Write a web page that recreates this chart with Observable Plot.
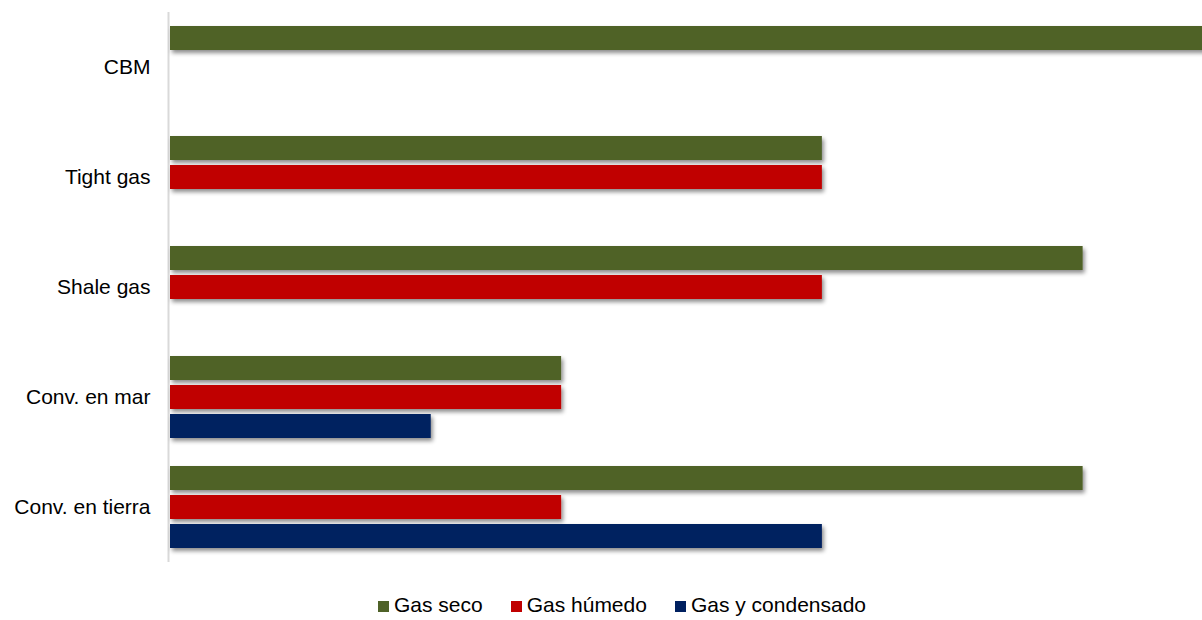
<!DOCTYPE html>
<html>
<head>
<meta charset="utf-8">
<script src="https://cdn.jsdelivr.net/npm/d3@7"></script>
<script src="https://cdn.jsdelivr.net/npm/@observablehq/plot@0.6"></script>
<style>
  html, body { margin: 0; padding: 0; background: #fff; }
  body { width: 1202px; height: 620px; overflow: hidden; font-family: "Liberation Sans", Arial, sans-serif; }
  #legend { display: flex; justify-content: center; align-items: center; height: 26px; margin-top: 2px; margin-left: 42px; font-size: 21px; color: #000; }
  #legend .item { display: flex; align-items: center; margin: 0 14px; }
  #legend .sw { width: 11px; height: 11px; margin-right: 5px; margin-top: 2px; }
</style>
</head>
<body>
<div id="chart"></div>
<div id="legend"></div>
<script>
const categories = ["CBM", "Tight gas", "Shale gas", "Conv. en mar", "Conv. en tierra"];
const series = ["Gas seco", "Gas húmedo", "Gas y condensado"];
const colors = ["#4F6228", "#C00000", "#002060"];
const gasSeco = [8, 5, 7, 3, 7];
const gasHumedo = [null, 5, 5, 3, 3];
const gasCondensado = [null, null, null, 2, 5];

const seriesValues = [gasSeco, gasHumedo, gasCondensado];
const rows = [];
categories.forEach((c, i) => {
  series.forEach((s, j) => {
    const v = seriesValues[j][i];
    if (v != null) rows.push({category: c, series: s, value: v});
  });
});

const chart = Plot.plot({
  width: 1202,
  height: 590,
  marginLeft: 170,
  marginRight: -11,
  marginTop: 12,
  marginBottom: 28,
  style: {fontFamily: "'Liberation Sans', Arial, sans-serif", fontSize: "21px", color: "#000", overflow: "hidden", background: "#fff"},
  x: {domain: [0, 8], axis: null},
  y: {domain: series, paddingInner: 0.16, paddingOuter: 0.457, axis: null},
  fy: {domain: categories, padding: 0, label: null, tickSize: 0, tickPadding: 20},
  color: {domain: series, range: colors},
  marks: [
    Plot.ruleX([0], {stroke: "#d9d9d9", strokeWidth: 2, dx: -2}),
    Plot.barX(rows, {fy: "category", y: "series", x: "value", fill: "series"})
  ]
});

// drop shadow for bars
const ns = "http://www.w3.org/2000/svg";
const defs = document.createElementNS(ns, "defs");
defs.innerHTML = '<filter id="barShadow" x="-5%" y="-50%" width="120%" height="220%"><feDropShadow dx="2" dy="3" stdDeviation="2" flood-color="#000" flood-opacity="0.45"/></filter>';
chart.insertBefore(defs, chart.firstChild);
chart.querySelectorAll('g[aria-label="bar"]').forEach(g => g.setAttribute("filter", "url(#barShadow)"));

document.getElementById("chart").appendChild(chart);

const legend = document.getElementById("legend");
series.forEach((s, j) => {
  const item = document.createElement("div");
  item.className = "item";
  const sw = document.createElement("span");
  sw.className = "sw";
  sw.style.background = colors[j];
  const t = document.createElement("span");
  t.textContent = s;
  item.appendChild(sw);
  item.appendChild(t);
  legend.appendChild(item);
});
</script>
</body>
</html>
